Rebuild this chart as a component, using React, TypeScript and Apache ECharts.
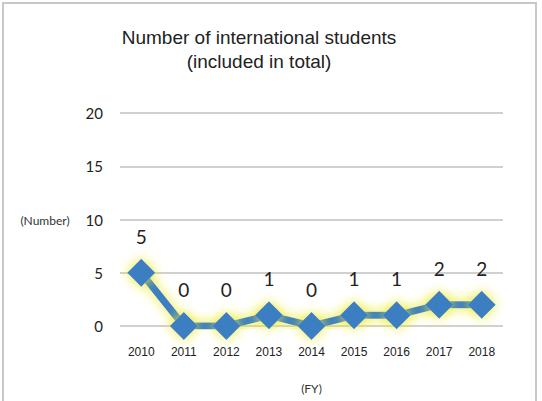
import React, { useEffect, useRef } from "react";
import * as echarts from "echarts";

const years = ["2010", "2011", "2012", "2013", "2014", "2015", "2016", "2017", "2018"];
const students = [5, 0, 0, 1, 0, 1, 1, 2, 2];
const yTicks = { min: 0, max: 20, interval: 5 };
const titleText = "Number of international students\n(included in total)";

export default function App() {
  const ref = useRef<HTMLDivElement>(null);
  useEffect(() => {
    document.body.style.margin = "0";
    const chart = echarts.init(ref.current!, null, { renderer: "svg" });
    chart.setOption({
      animation: false,
      backgroundColor: "#ffffff",
      graphic: [
        {
          type: "rect",
          shape: { x: 3, y: 3, width: 533, height: 420 },
          style: { fill: "none", stroke: "#c8c8c8", lineWidth: 2 },
          silent: true,
        },
        {
          type: "text",
          x: 259,
          y: 25,
          style: {
            text: titleText,
            fontFamily: "Liberation Sans, Arial, sans-serif",
            fontSize: 19,
            fill: "#222",
            lineHeight: 24,
            align: "center",
            verticalAlign: "top",
          },
        },
        {
          type: "text",
          x: 45,
          y: 220,
          style: {
            text: "(Number)",
            fontFamily: "Lato, sans-serif",
            fontSize: 12,
            fill: "#333",
            align: "center",
            verticalAlign: "middle",
          },
        },
      ],
      grid: { left: 120, right: 39, top: 113, bottom: 75 },
      xAxis: {
        type: "category",
        data: years,
        boundaryGap: true,
        axisLine: { show: false },
        axisTick: { show: false },
        axisLabel: {
          margin: 20,
          fontFamily: "Liberation Sans, Arial, sans-serif",
          fontSize: 12,
          color: "#222",
        },
        name: "(FY)",
        nameLocation: "middle",
        nameGap: 56,
        nameTextStyle: { fontFamily: "Lato, sans-serif", fontSize: 12, color: "#333" },
      },
      yAxis: {
        type: "value",
        min: yTicks.min,
        max: yTicks.max,
        interval: yTicks.interval,
        axisLine: { show: false },
        axisTick: { show: false },
        axisLabel: {
          margin: 17,
          fontFamily: "Lato, sans-serif",
          fontSize: 15,
          color: "#222",
        },
        splitLine: { lineStyle: { color: "#d0d0d0", width: 2 } },
      },
      series: [
        {
          type: "line",
          data: students,
          symbol: "diamond",
          symbolSize: 28,
          lineStyle: {
            color: "#3a7fc2",
            width: 7,
            shadowColor: "rgba(235,235,40,1)",
            shadowBlur: 12,
          },
          itemStyle: {
            color: "#3a7fc2",
            shadowColor: "rgba(235,235,40,1)",
            shadowBlur: 12,
          },
          label: {
            show: true,
            position: "top",
            distance: 13,
            fontFamily: "Lato, sans-serif",
            fontSize: 19,
            color: "#222",
          },
        },
      ],
    });
    return () => chart.dispose();
  }, []);
  return <div ref={ref} style={{ width: 542, height: 401 }} />;
}
